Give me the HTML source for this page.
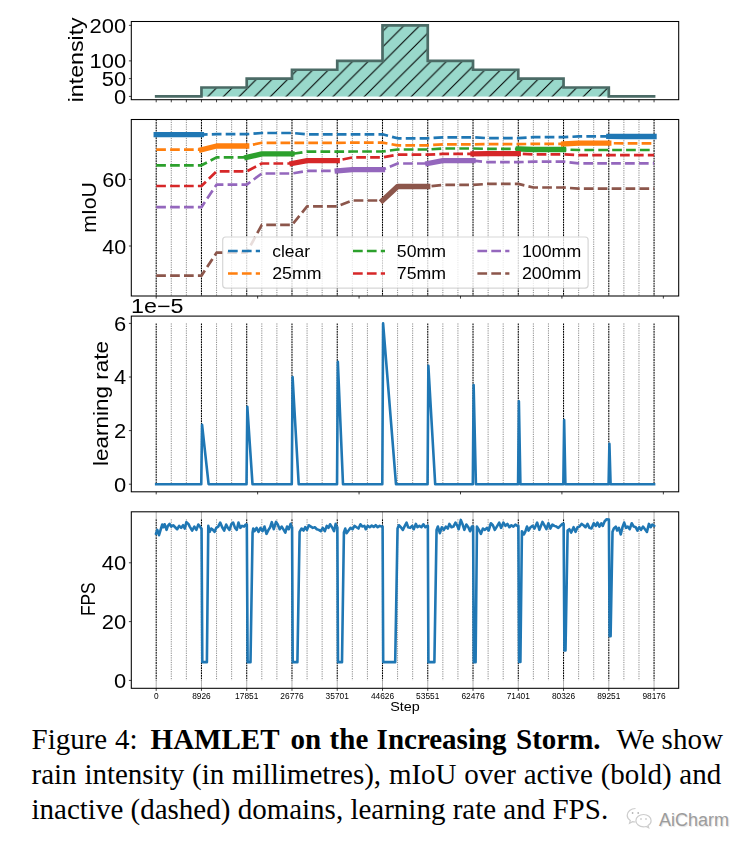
<!DOCTYPE html>
<html><head><meta charset="utf-8"><title>Figure 4</title>
<style>
html,body{margin:0;padding:0;background:#fff;}
body{width:755px;height:850px;position:relative;overflow:hidden;font-family:"Liberation Serif",serif;}
.cap{position:absolute;left:0;top:720px;width:755px;height:130px;font-family:"Liberation Serif",serif;font-size:29px;line-height:35px;color:#000;}
.cap span{position:absolute;white-space:pre;}
.wm{position:absolute;left:659px;top:809.5px;font-family:"Liberation Sans",sans-serif;font-size:18px;line-height:20px;color:#9c9c9c;text-shadow:1px 1px 1px rgba(0,0,0,0.13), -1px -1px 1px #fff;letter-spacing:0px;}
</style></head><body>
<div class="cap">
<span style="left:31.5px;top:1.8px">Figure</span>
<span style="left:115.0px;top:1.8px">4:</span>
<span style="left:150.6px;top:1.8px"><b>HAMLET</b></span>
<span style="left:290.4px;top:1.8px"><b>on</b></span>
<span style="left:329.6px;top:1.8px"><b>the</b></span>
<span style="left:376.6px;top:1.8px"><b>Increasing</b></span>
<span style="left:516.0px;top:1.8px"><b>Storm.</b></span>
<span style="left:616.6px;top:1.8px">We</span>
<span style="left:661.6px;top:1.8px">show</span>
<span style="left:31.5px;top:36.8px;word-spacing:0.55px">rain intensity (in millimetres), mIoU over active (bold) and</span>
<span style="left:31.5px;top:71.8px">inactive (dashed) domains, learning rate and FPS.</span>
</div>
<svg width="30" height="26" viewBox="0 0 30 26" style="position:absolute;left:625px;top:805px" fill="#fff" stroke="#cdcdcd" stroke-width="1.2">
<path d="M10.5 3.5c-4.6 0-8.3 3-8.3 6.8 0 2.1 1.2 4 3.1 5.3l-0.8 2.6 3-1.6c0.9 0.3 1.9 0.4 3 0.4"/>
<path d="M18.5 9.5c-4.2 0-7.6 2.8-7.6 6.2s3.4 6.2 7.6 6.2c0.9 0 1.8-0.1 2.6-0.4l2.6 1.4-0.7-2.3c1.9-1.1 3.100-2.900 3.100-4.900 0-3.400-3.400-6.200-7.600-6.200z"/>
<circle cx="7.6" cy="8" r="0.9" fill="#b5b5b5" stroke="none"/><circle cx="13.2" cy="8" r="0.9" fill="#b5b5b5" stroke="none"/>
<circle cx="16" cy="14" r="0.8" fill="#b5b5b5" stroke="none"/><circle cx="21" cy="14" r="0.8" fill="#b5b5b5" stroke="none"/>
</svg>
<div class="wm">AiCharm</div>
<svg width="755" height="720" viewBox="0 0 755 720" style="position:absolute;left:0;top:0;will-change:transform" font-family="Liberation Sans, sans-serif">
<defs>
<pattern id="hatch" patternUnits="userSpaceOnUse" width="15.65" height="15.65" x="7.05" y="0"><path d="M-2,2 L2,-2 M-2,17.65 L17.65,-2 M13.65,17.65 L17.65,13.65" stroke="#000" stroke-width="1.05" fill="none"/></pattern>
<clipPath id="c2"><rect x="131.3" y="119.5" width="547.4000000000001" height="176.5"/></clipPath>
</defs>
<polygon points="156.2,96.4 156.2,96.4 201.46,96.4 201.46,87.52 246.72,87.52 246.72,78.64 291.98,78.64 291.98,69.76 337.24,69.76 337.24,60.88 382.5,60.88 382.5,25.36 427.76,25.36 427.76,60.88 473.02,60.88 473.02,69.76 518.28,69.76 518.28,78.64 563.54,78.64 563.54,87.52 608.8,87.52 608.8,96.4 654.06,96.4 654.06,96.4" fill="#99d8cb"/>
<polygon points="156.2,96.4 156.2,96.4 201.46,96.4 201.46,87.52 246.72,87.52 246.72,78.64 291.98,78.64 291.98,69.76 337.24,69.76 337.24,60.88 382.5,60.88 382.5,25.36 427.76,25.36 427.76,60.88 473.02,60.88 473.02,69.76 518.28,69.76 518.28,78.64 563.54,78.64 563.54,87.52 608.8,87.52 608.8,96.4 654.06,96.4 654.06,96.4" fill="url(#hatch)"/>
<polyline points="156.2,96.4 201.46,96.4 201.46,87.52 246.72,87.52 246.72,78.64 291.98,78.64 291.98,69.76 337.24,69.76 337.24,60.88 382.5,60.88 382.5,25.36 427.76,25.36 427.76,60.88 473.02,60.88 473.02,69.76 518.28,69.76 518.28,78.64 563.54,78.64 563.54,87.52 608.8,87.52 608.8,96.4 654.06,96.4" fill="none" stroke="#4b6b66" stroke-width="2.7" stroke-linejoin="miter" stroke-linecap="square"/>
<line x1="156.2" x2="156.2" y1="119.5" y2="296" stroke="#000" stroke-width="1.05" stroke-dasharray="1.8 0.75"/><line x1="171.29" x2="171.29" y1="119.5" y2="296" stroke="#666" stroke-width="0.75" stroke-dasharray="1.2 1.1"/><line x1="186.37" x2="186.37" y1="119.5" y2="296" stroke="#666" stroke-width="0.75" stroke-dasharray="1.2 1.1"/><line x1="201.46" x2="201.46" y1="119.5" y2="296" stroke="#000" stroke-width="1.05" stroke-dasharray="1.8 0.75"/><line x1="216.55" x2="216.55" y1="119.5" y2="296" stroke="#666" stroke-width="0.75" stroke-dasharray="1.2 1.1"/><line x1="231.63" x2="231.63" y1="119.5" y2="296" stroke="#666" stroke-width="0.75" stroke-dasharray="1.2 1.1"/><line x1="246.72" x2="246.72" y1="119.5" y2="296" stroke="#000" stroke-width="1.05" stroke-dasharray="1.8 0.75"/><line x1="261.81" x2="261.81" y1="119.5" y2="296" stroke="#666" stroke-width="0.75" stroke-dasharray="1.2 1.1"/><line x1="276.89" x2="276.89" y1="119.5" y2="296" stroke="#666" stroke-width="0.75" stroke-dasharray="1.2 1.1"/><line x1="291.98" x2="291.98" y1="119.5" y2="296" stroke="#000" stroke-width="1.05" stroke-dasharray="1.8 0.75"/><line x1="307.07" x2="307.07" y1="119.5" y2="296" stroke="#666" stroke-width="0.75" stroke-dasharray="1.2 1.1"/><line x1="322.15" x2="322.15" y1="119.5" y2="296" stroke="#666" stroke-width="0.75" stroke-dasharray="1.2 1.1"/><line x1="337.24" x2="337.24" y1="119.5" y2="296" stroke="#000" stroke-width="1.05" stroke-dasharray="1.8 0.75"/><line x1="352.33" x2="352.33" y1="119.5" y2="296" stroke="#666" stroke-width="0.75" stroke-dasharray="1.2 1.1"/><line x1="367.41" x2="367.41" y1="119.5" y2="296" stroke="#666" stroke-width="0.75" stroke-dasharray="1.2 1.1"/><line x1="382.5" x2="382.5" y1="119.5" y2="296" stroke="#000" stroke-width="1.05" stroke-dasharray="1.8 0.75"/><line x1="397.59" x2="397.59" y1="119.5" y2="296" stroke="#666" stroke-width="0.75" stroke-dasharray="1.2 1.1"/><line x1="412.67" x2="412.67" y1="119.5" y2="296" stroke="#666" stroke-width="0.75" stroke-dasharray="1.2 1.1"/><line x1="427.76" x2="427.76" y1="119.5" y2="296" stroke="#000" stroke-width="1.05" stroke-dasharray="1.8 0.75"/><line x1="442.85" x2="442.85" y1="119.5" y2="296" stroke="#666" stroke-width="0.75" stroke-dasharray="1.2 1.1"/><line x1="457.93" x2="457.93" y1="119.5" y2="296" stroke="#666" stroke-width="0.75" stroke-dasharray="1.2 1.1"/><line x1="473.02" x2="473.02" y1="119.5" y2="296" stroke="#000" stroke-width="1.05" stroke-dasharray="1.8 0.75"/><line x1="488.11" x2="488.11" y1="119.5" y2="296" stroke="#666" stroke-width="0.75" stroke-dasharray="1.2 1.1"/><line x1="503.19" x2="503.19" y1="119.5" y2="296" stroke="#666" stroke-width="0.75" stroke-dasharray="1.2 1.1"/><line x1="518.28" x2="518.28" y1="119.5" y2="296" stroke="#000" stroke-width="1.05" stroke-dasharray="1.8 0.75"/><line x1="533.37" x2="533.37" y1="119.5" y2="296" stroke="#666" stroke-width="0.75" stroke-dasharray="1.2 1.1"/><line x1="548.45" x2="548.45" y1="119.5" y2="296" stroke="#666" stroke-width="0.75" stroke-dasharray="1.2 1.1"/><line x1="563.54" x2="563.54" y1="119.5" y2="296" stroke="#000" stroke-width="1.05" stroke-dasharray="1.8 0.75"/><line x1="578.63" x2="578.63" y1="119.5" y2="296" stroke="#666" stroke-width="0.75" stroke-dasharray="1.2 1.1"/><line x1="593.71" x2="593.71" y1="119.5" y2="296" stroke="#666" stroke-width="0.75" stroke-dasharray="1.2 1.1"/><line x1="608.8" x2="608.8" y1="119.5" y2="296" stroke="#000" stroke-width="1.05" stroke-dasharray="1.8 0.75"/><line x1="623.89" x2="623.89" y1="119.5" y2="296" stroke="#666" stroke-width="0.75" stroke-dasharray="1.2 1.1"/><line x1="638.97" x2="638.97" y1="119.5" y2="296" stroke="#666" stroke-width="0.75" stroke-dasharray="1.2 1.1"/><line x1="654.06" x2="654.06" y1="119.5" y2="296" stroke="#000" stroke-width="1.05" stroke-dasharray="1.8 0.75"/>
<g clip-path="url(#c2)" fill="none">
<polyline points="156.2,134.6 201.46,134.6 216.55,134.2 246.72,134.2 261.81,133 291.98,133 307.07,134.3 337.24,134.3 352.33,134.3 382.5,134.3 397.59,138.3 427.76,138.3 442.85,137.3 473.02,137.3 488.11,138.2 518.28,138.2 533.37,137.2 563.54,137.2 578.63,136.4 608.8,136.4 623.89,136.5 654.06,136.5" stroke="#1f77b4" stroke-width="2.7" stroke-dasharray="9.7 4.2" stroke-linejoin="round"/>
<polyline points="156.2,149.7 201.46,149.7 216.55,146 246.72,146 261.81,142.8 291.98,142.8 307.07,142.9 337.24,142.9 352.33,142.6 382.5,142.6 397.59,145.3 427.76,145.3 442.85,144.3 473.02,144.3 488.11,144.1 518.28,144.1 533.37,143.9 563.54,143.9 578.63,143.2 608.8,143.2 623.89,143.3 654.06,143.3" stroke="#ff7f0e" stroke-width="2.7" stroke-dasharray="9.7 4.2" stroke-linejoin="round"/>
<polyline points="156.2,165.3 201.46,165.3 216.55,157.4 246.72,157.4 261.81,153.9 291.98,153.9 307.07,151.6 337.24,151.6 352.33,151.5 382.5,151.5 397.59,149.5 427.76,149.5 442.85,148.5 473.02,148.5 488.11,148.9 518.28,148.9 533.37,149.5 563.54,149.5 578.63,150 608.8,150 623.89,150 654.06,150" stroke="#2ca02c" stroke-width="2.7" stroke-dasharray="9.7 4.2" stroke-linejoin="round"/>
<polyline points="156.2,186 201.46,186 216.55,171.4 246.72,171.4 261.81,163.5 291.98,163.5 307.07,160.6 337.24,160.6 352.33,157.4 382.5,157.4 397.59,154.7 427.76,154.7 442.85,153.9 473.02,153.9 488.11,153.7 518.28,153.7 533.37,154.4 563.54,154.4 578.63,155.2 608.8,155.2 623.89,155.2 654.06,155.2" stroke="#d62728" stroke-width="2.7" stroke-dasharray="9.7 4.2" stroke-linejoin="round"/>
<polyline points="156.2,207.2 201.46,207.2 216.55,184.7 246.72,184.7 261.81,173.5 291.98,173.5 307.07,170.9 337.24,170.9 352.33,169.6 382.5,169.6 397.59,163.5 427.76,163.5 442.85,160.6 473.02,160.6 488.11,162.2 518.28,162.2 533.37,161.6 563.54,161.6 578.63,163.4 608.8,163.4 623.89,163.4 654.06,163.4" stroke="#9467bd" stroke-width="2.7" stroke-dasharray="9.7 4.2" stroke-linejoin="round"/>
<polyline points="156.2,275.7 201.46,275.7 216.55,252.7 246.72,252.7 261.81,224.9 291.98,224.9 307.07,206.4 337.24,206.4 352.33,200.5 382.5,200.5 397.59,186.5 427.76,186.5 442.85,184.9 473.02,184.9 488.11,183.9 518.28,183.9 533.37,187.5 563.54,187.5 578.63,188.7 608.8,188.7 623.89,188.7 654.06,188.7" stroke="#8c564b" stroke-width="2.7" stroke-dasharray="9.7 4.2" stroke-linejoin="round"/>
<polyline points="156.2,134.6 201.46,134.6" stroke="#1f77b4" stroke-width="5.3" stroke-linecap="square" stroke-linejoin="round"/>
<polyline points="608.8,136.4 623.89,136.5 654.06,136.5" stroke="#1f77b4" stroke-width="5.3" stroke-linecap="square" stroke-linejoin="round"/>
<polyline points="201.46,149.7 216.55,146 246.72,146" stroke="#ff7f0e" stroke-width="5.3" stroke-linecap="square" stroke-linejoin="round"/>
<polyline points="563.54,143.9 578.63,143.2 608.8,143.2" stroke="#ff7f0e" stroke-width="5.3" stroke-linecap="square" stroke-linejoin="round"/>
<polyline points="246.72,157.4 261.81,153.9 291.98,153.9" stroke="#2ca02c" stroke-width="5.3" stroke-linecap="square" stroke-linejoin="round"/>
<polyline points="518.28,148.9 533.37,149.5 563.54,149.5" stroke="#2ca02c" stroke-width="5.3" stroke-linecap="square" stroke-linejoin="round"/>
<polyline points="291.98,163.5 307.07,160.6 337.24,160.6" stroke="#d62728" stroke-width="5.3" stroke-linecap="square" stroke-linejoin="round"/>
<polyline points="473.02,153.9 488.11,153.7 518.28,153.7" stroke="#d62728" stroke-width="5.3" stroke-linecap="square" stroke-linejoin="round"/>
<polyline points="337.24,170.9 352.33,169.6 382.5,169.6" stroke="#9467bd" stroke-width="5.3" stroke-linecap="square" stroke-linejoin="round"/>
<polyline points="427.76,163.5 442.85,160.6 473.02,160.6" stroke="#9467bd" stroke-width="5.3" stroke-linecap="square" stroke-linejoin="round"/>
<polyline points="382.5,200.5 397.59,186.5 427.76,186.5" stroke="#8c564b" stroke-width="5.3" stroke-linecap="square" stroke-linejoin="round"/>
</g>
<rect x="222.7" y="237.0" width="365.40000000000003" height="51.10000000000002" rx="3" ry="3" fill="#fff" fill-opacity="0.8" stroke="#ccc" stroke-opacity="0.8" stroke-width="1.2"/>
<line x1="228.0" x2="260.0" y1="251.0" y2="251.0" stroke="#1f77b4" stroke-width="2.7" stroke-dasharray="9.7 4.2"/>
<text x="272.2" y="256.7" font-size="16.4" text-anchor="start" textLength="37.8" lengthAdjust="spacingAndGlyphs" fill="#000" >clear</text>
<line x1="228.0" x2="260.0" y1="273.5" y2="273.5" stroke="#ff7f0e" stroke-width="2.7" stroke-dasharray="9.7 4.2"/>
<text x="272.2" y="279.2" font-size="16.4" text-anchor="start" textLength="49.2" lengthAdjust="spacingAndGlyphs" fill="#000" >25mm</text>
<line x1="353.0" x2="385.0" y1="251.0" y2="251.0" stroke="#2ca02c" stroke-width="2.7" stroke-dasharray="9.7 4.2"/>
<text x="396.8" y="256.7" font-size="16.4" text-anchor="start" textLength="49.2" lengthAdjust="spacingAndGlyphs" fill="#000" >50mm</text>
<line x1="353.0" x2="385.0" y1="273.5" y2="273.5" stroke="#d62728" stroke-width="2.7" stroke-dasharray="9.7 4.2"/>
<text x="396.8" y="279.2" font-size="16.4" text-anchor="start" textLength="49.2" lengthAdjust="spacingAndGlyphs" fill="#000" >75mm</text>
<line x1="477.4" x2="509.4" y1="251.0" y2="251.0" stroke="#9467bd" stroke-width="2.7" stroke-dasharray="9.7 4.2"/>
<text x="522.0" y="256.7" font-size="16.4" text-anchor="start" textLength="59.2" lengthAdjust="spacingAndGlyphs" fill="#000" >100mm</text>
<line x1="477.4" x2="509.4" y1="273.5" y2="273.5" stroke="#8c564b" stroke-width="2.7" stroke-dasharray="9.7 4.2"/>
<text x="522.0" y="279.2" font-size="16.4" text-anchor="start" textLength="59.2" lengthAdjust="spacingAndGlyphs" fill="#000" >200mm</text>
<line x1="156.2" x2="156.2" y1="323.4" y2="484.2" stroke="#000" stroke-width="1.05" stroke-dasharray="1.8 0.75"/><line x1="171.29" x2="171.29" y1="323.4" y2="484.2" stroke="#666" stroke-width="0.75" stroke-dasharray="1.2 1.1"/><line x1="186.37" x2="186.37" y1="323.4" y2="484.2" stroke="#666" stroke-width="0.75" stroke-dasharray="1.2 1.1"/><line x1="201.46" x2="201.46" y1="323.4" y2="484.2" stroke="#000" stroke-width="1.05" stroke-dasharray="1.8 0.75"/><line x1="216.55" x2="216.55" y1="323.4" y2="484.2" stroke="#666" stroke-width="0.75" stroke-dasharray="1.2 1.1"/><line x1="231.63" x2="231.63" y1="323.4" y2="484.2" stroke="#666" stroke-width="0.75" stroke-dasharray="1.2 1.1"/><line x1="246.72" x2="246.72" y1="323.4" y2="484.2" stroke="#000" stroke-width="1.05" stroke-dasharray="1.8 0.75"/><line x1="261.81" x2="261.81" y1="323.4" y2="484.2" stroke="#666" stroke-width="0.75" stroke-dasharray="1.2 1.1"/><line x1="276.89" x2="276.89" y1="323.4" y2="484.2" stroke="#666" stroke-width="0.75" stroke-dasharray="1.2 1.1"/><line x1="291.98" x2="291.98" y1="323.4" y2="484.2" stroke="#000" stroke-width="1.05" stroke-dasharray="1.8 0.75"/><line x1="307.07" x2="307.07" y1="323.4" y2="484.2" stroke="#666" stroke-width="0.75" stroke-dasharray="1.2 1.1"/><line x1="322.15" x2="322.15" y1="323.4" y2="484.2" stroke="#666" stroke-width="0.75" stroke-dasharray="1.2 1.1"/><line x1="337.24" x2="337.24" y1="323.4" y2="484.2" stroke="#000" stroke-width="1.05" stroke-dasharray="1.8 0.75"/><line x1="352.33" x2="352.33" y1="323.4" y2="484.2" stroke="#666" stroke-width="0.75" stroke-dasharray="1.2 1.1"/><line x1="367.41" x2="367.41" y1="323.4" y2="484.2" stroke="#666" stroke-width="0.75" stroke-dasharray="1.2 1.1"/><line x1="382.5" x2="382.5" y1="323.4" y2="484.2" stroke="#000" stroke-width="1.05" stroke-dasharray="1.8 0.75"/><line x1="397.59" x2="397.59" y1="323.4" y2="484.2" stroke="#666" stroke-width="0.75" stroke-dasharray="1.2 1.1"/><line x1="412.67" x2="412.67" y1="323.4" y2="484.2" stroke="#666" stroke-width="0.75" stroke-dasharray="1.2 1.1"/><line x1="427.76" x2="427.76" y1="323.4" y2="484.2" stroke="#000" stroke-width="1.05" stroke-dasharray="1.8 0.75"/><line x1="442.85" x2="442.85" y1="323.4" y2="484.2" stroke="#666" stroke-width="0.75" stroke-dasharray="1.2 1.1"/><line x1="457.93" x2="457.93" y1="323.4" y2="484.2" stroke="#666" stroke-width="0.75" stroke-dasharray="1.2 1.1"/><line x1="473.02" x2="473.02" y1="323.4" y2="484.2" stroke="#000" stroke-width="1.05" stroke-dasharray="1.8 0.75"/><line x1="488.11" x2="488.11" y1="323.4" y2="484.2" stroke="#666" stroke-width="0.75" stroke-dasharray="1.2 1.1"/><line x1="503.19" x2="503.19" y1="323.4" y2="484.2" stroke="#666" stroke-width="0.75" stroke-dasharray="1.2 1.1"/><line x1="518.28" x2="518.28" y1="323.4" y2="484.2" stroke="#000" stroke-width="1.05" stroke-dasharray="1.8 0.75"/><line x1="533.37" x2="533.37" y1="323.4" y2="484.2" stroke="#666" stroke-width="0.75" stroke-dasharray="1.2 1.1"/><line x1="548.45" x2="548.45" y1="323.4" y2="484.2" stroke="#666" stroke-width="0.75" stroke-dasharray="1.2 1.1"/><line x1="563.54" x2="563.54" y1="323.4" y2="484.2" stroke="#000" stroke-width="1.05" stroke-dasharray="1.8 0.75"/><line x1="578.63" x2="578.63" y1="323.4" y2="484.2" stroke="#666" stroke-width="0.75" stroke-dasharray="1.2 1.1"/><line x1="593.71" x2="593.71" y1="323.4" y2="484.2" stroke="#666" stroke-width="0.75" stroke-dasharray="1.2 1.1"/><line x1="608.8" x2="608.8" y1="323.4" y2="484.2" stroke="#000" stroke-width="1.05" stroke-dasharray="1.8 0.75"/><line x1="623.89" x2="623.89" y1="323.4" y2="484.2" stroke="#666" stroke-width="0.75" stroke-dasharray="1.2 1.1"/><line x1="638.97" x2="638.97" y1="323.4" y2="484.2" stroke="#666" stroke-width="0.75" stroke-dasharray="1.2 1.1"/><line x1="654.06" x2="654.06" y1="323.4" y2="484.2" stroke="#000" stroke-width="1.05" stroke-dasharray="1.8 0.75"/>
<polyline points="156.2,484.2 201.26,484.2 202.06,424.7 208.6,484.2 246.52,484.2 247.32,406.75 252.5,484.2 291.78,484.2 292.58,377 298.7,484.2 337.04,484.2 337.84,361.72 343,484.2 382.3,484.2 383.1,323.4 396,484.2 427.56,484.2 428.36,365.74 435.2,484.2 472.82,484.2 473.62,385.04 475.9,484.2 518.08,484.2 518.88,401.39 520.4,484.2 563.34,484.2 564.14,420.15 565.4,484.2 608.6,484.2 609.4,443.73 610.6,484.2 654.06,484.2" fill="none" stroke="#1f77b4" stroke-width="2.6" stroke-linejoin="round" stroke-linecap="square"/>
<line x1="156.2" x2="156.2" y1="519.3" y2="680.4" stroke="#000" stroke-width="1.05" stroke-dasharray="1.8 0.75"/><line x1="171.29" x2="171.29" y1="519.3" y2="680.4" stroke="#666" stroke-width="0.75" stroke-dasharray="1.2 1.1"/><line x1="186.37" x2="186.37" y1="519.3" y2="680.4" stroke="#666" stroke-width="0.75" stroke-dasharray="1.2 1.1"/><line x1="201.46" x2="201.46" y1="519.3" y2="680.4" stroke="#000" stroke-width="1.05" stroke-dasharray="1.8 0.75"/><line x1="216.55" x2="216.55" y1="519.3" y2="680.4" stroke="#666" stroke-width="0.75" stroke-dasharray="1.2 1.1"/><line x1="231.63" x2="231.63" y1="519.3" y2="680.4" stroke="#666" stroke-width="0.75" stroke-dasharray="1.2 1.1"/><line x1="246.72" x2="246.72" y1="519.3" y2="680.4" stroke="#000" stroke-width="1.05" stroke-dasharray="1.8 0.75"/><line x1="261.81" x2="261.81" y1="519.3" y2="680.4" stroke="#666" stroke-width="0.75" stroke-dasharray="1.2 1.1"/><line x1="276.89" x2="276.89" y1="519.3" y2="680.4" stroke="#666" stroke-width="0.75" stroke-dasharray="1.2 1.1"/><line x1="291.98" x2="291.98" y1="519.3" y2="680.4" stroke="#000" stroke-width="1.05" stroke-dasharray="1.8 0.75"/><line x1="307.07" x2="307.07" y1="519.3" y2="680.4" stroke="#666" stroke-width="0.75" stroke-dasharray="1.2 1.1"/><line x1="322.15" x2="322.15" y1="519.3" y2="680.4" stroke="#666" stroke-width="0.75" stroke-dasharray="1.2 1.1"/><line x1="337.24" x2="337.24" y1="519.3" y2="680.4" stroke="#000" stroke-width="1.05" stroke-dasharray="1.8 0.75"/><line x1="352.33" x2="352.33" y1="519.3" y2="680.4" stroke="#666" stroke-width="0.75" stroke-dasharray="1.2 1.1"/><line x1="367.41" x2="367.41" y1="519.3" y2="680.4" stroke="#666" stroke-width="0.75" stroke-dasharray="1.2 1.1"/><line x1="382.5" x2="382.5" y1="519.3" y2="680.4" stroke="#000" stroke-width="1.05" stroke-dasharray="1.8 0.75"/><line x1="397.59" x2="397.59" y1="519.3" y2="680.4" stroke="#666" stroke-width="0.75" stroke-dasharray="1.2 1.1"/><line x1="412.67" x2="412.67" y1="519.3" y2="680.4" stroke="#666" stroke-width="0.75" stroke-dasharray="1.2 1.1"/><line x1="427.76" x2="427.76" y1="519.3" y2="680.4" stroke="#000" stroke-width="1.05" stroke-dasharray="1.8 0.75"/><line x1="442.85" x2="442.85" y1="519.3" y2="680.4" stroke="#666" stroke-width="0.75" stroke-dasharray="1.2 1.1"/><line x1="457.93" x2="457.93" y1="519.3" y2="680.4" stroke="#666" stroke-width="0.75" stroke-dasharray="1.2 1.1"/><line x1="473.02" x2="473.02" y1="519.3" y2="680.4" stroke="#000" stroke-width="1.05" stroke-dasharray="1.8 0.75"/><line x1="488.11" x2="488.11" y1="519.3" y2="680.4" stroke="#666" stroke-width="0.75" stroke-dasharray="1.2 1.1"/><line x1="503.19" x2="503.19" y1="519.3" y2="680.4" stroke="#666" stroke-width="0.75" stroke-dasharray="1.2 1.1"/><line x1="518.28" x2="518.28" y1="519.3" y2="680.4" stroke="#000" stroke-width="1.05" stroke-dasharray="1.8 0.75"/><line x1="533.37" x2="533.37" y1="519.3" y2="680.4" stroke="#666" stroke-width="0.75" stroke-dasharray="1.2 1.1"/><line x1="548.45" x2="548.45" y1="519.3" y2="680.4" stroke="#666" stroke-width="0.75" stroke-dasharray="1.2 1.1"/><line x1="563.54" x2="563.54" y1="519.3" y2="680.4" stroke="#000" stroke-width="1.05" stroke-dasharray="1.8 0.75"/><line x1="578.63" x2="578.63" y1="519.3" y2="680.4" stroke="#666" stroke-width="0.75" stroke-dasharray="1.2 1.1"/><line x1="593.71" x2="593.71" y1="519.3" y2="680.4" stroke="#666" stroke-width="0.75" stroke-dasharray="1.2 1.1"/><line x1="608.8" x2="608.8" y1="519.3" y2="680.4" stroke="#000" stroke-width="1.05" stroke-dasharray="1.8 0.75"/><line x1="623.89" x2="623.89" y1="519.3" y2="680.4" stroke="#666" stroke-width="0.75" stroke-dasharray="1.2 1.1"/><line x1="638.97" x2="638.97" y1="519.3" y2="680.4" stroke="#666" stroke-width="0.75" stroke-dasharray="1.2 1.1"/><line x1="654.06" x2="654.06" y1="519.3" y2="680.4" stroke="#000" stroke-width="1.05" stroke-dasharray="1.8 0.75"/>
<line x1="156.2" x2="156.2" y1="680.4" y2="688.3" stroke="#999" stroke-width="0.8"/>
<line x1="156.2" x2="156.2" y1="511.8" y2="519.3" stroke="#999" stroke-width="0.8"/>
<line x1="201.46" x2="201.46" y1="680.4" y2="688.3" stroke="#999" stroke-width="0.8"/>
<line x1="201.46" x2="201.46" y1="511.8" y2="519.3" stroke="#999" stroke-width="0.8"/>
<line x1="246.72" x2="246.72" y1="680.4" y2="688.3" stroke="#999" stroke-width="0.8"/>
<line x1="246.72" x2="246.72" y1="511.8" y2="519.3" stroke="#999" stroke-width="0.8"/>
<line x1="291.98" x2="291.98" y1="680.4" y2="688.3" stroke="#999" stroke-width="0.8"/>
<line x1="291.98" x2="291.98" y1="511.8" y2="519.3" stroke="#999" stroke-width="0.8"/>
<line x1="337.24" x2="337.24" y1="680.4" y2="688.3" stroke="#999" stroke-width="0.8"/>
<line x1="337.24" x2="337.24" y1="511.8" y2="519.3" stroke="#999" stroke-width="0.8"/>
<line x1="382.5" x2="382.5" y1="680.4" y2="688.3" stroke="#999" stroke-width="0.8"/>
<line x1="382.5" x2="382.5" y1="511.8" y2="519.3" stroke="#999" stroke-width="0.8"/>
<line x1="427.76" x2="427.76" y1="680.4" y2="688.3" stroke="#999" stroke-width="0.8"/>
<line x1="427.76" x2="427.76" y1="511.8" y2="519.3" stroke="#999" stroke-width="0.8"/>
<line x1="473.02" x2="473.02" y1="680.4" y2="688.3" stroke="#999" stroke-width="0.8"/>
<line x1="473.02" x2="473.02" y1="511.8" y2="519.3" stroke="#999" stroke-width="0.8"/>
<line x1="518.28" x2="518.28" y1="680.4" y2="688.3" stroke="#999" stroke-width="0.8"/>
<line x1="518.28" x2="518.28" y1="511.8" y2="519.3" stroke="#999" stroke-width="0.8"/>
<line x1="563.54" x2="563.54" y1="680.4" y2="688.3" stroke="#999" stroke-width="0.8"/>
<line x1="563.54" x2="563.54" y1="511.8" y2="519.3" stroke="#999" stroke-width="0.8"/>
<line x1="608.8" x2="608.8" y1="680.4" y2="688.3" stroke="#999" stroke-width="0.8"/>
<line x1="608.8" x2="608.8" y1="511.8" y2="519.3" stroke="#999" stroke-width="0.8"/>
<line x1="654.06" x2="654.06" y1="680.4" y2="688.3" stroke="#999" stroke-width="0.8"/>
<line x1="654.06" x2="654.06" y1="511.8" y2="519.3" stroke="#999" stroke-width="0.8"/>
<polyline points="155.96,533.84 157.28,529.87 159.01,535.17 160.6,529.87 162.19,524.57 163.25,527.22 164.57,524.3 166.56,529.87 167.88,525.89 169.6,523.91 171.19,526.56 173.18,525.23 175.17,527.22 177.15,529.21 179.14,525.89 181.13,527.88 183.11,525.23 184.7,528.54 186.42,522.19 188.41,523.91 189.74,526.56 192.12,530.53 194.37,526.56 196.36,529.87 198.34,524.57 200.07,526.56 200.99,528.54 201.56,528.54 202.3,662.17 206.9,662.17 208.28,525.89 209.6,531.85 211.19,528.54 212.91,529.87 214.64,531.85 216.23,527.88 218.21,526.56 220.2,522.58 222.19,527.22 224.17,530.53 226.16,524.57 227.88,527.88 229.47,529.87 231.46,523.91 233.18,522.58 235.03,527.88 236.75,529.87 238.48,522.58 240.33,527.88 242.05,525.89 244.04,526.56 245.63,524.57 246.82,524.57 247.6,662.17 250.5,662.17 252.58,532.52 253.25,528.54 254.57,531.19 256.56,527.88 258.54,531.85 260.53,527.88 262.52,531.19 264.5,526.56 266.49,533.84 268.48,529.87 270.2,527.22 271.79,522.19 273.77,529.21 276.03,521.92 277.75,524.57 279.74,529.21 281.72,526.56 283.71,529.87 285.3,532.52 287.02,526.56 288.74,529.21 290.6,523.91 291.39,527.22 292.08,527.22 292.7,662.17 297.4,662.17 299.6,531.85 301.59,528.54 303.58,530.53 305.17,527.22 306.89,529.87 308.87,525.23 310.86,526.56 312.85,527.88 314.83,527.22 316.82,529.21 318.81,529.87 320.79,531.19 322.78,527.88 324.77,531.19 326.75,525.89 328.48,527.88 330.07,524.3 332.05,527.22 334.04,531.19 335.63,523.91 336.69,527.22 337.34,527.22 338,662.17 342,662.17 343.91,532.52 345.23,528.54 346.56,533.18 348.54,530.53 350.53,527.88 352.52,529.21 354.5,525.89 356.49,527.22 358.48,528.54 360.46,524.3 362.45,526.56 364.44,525.89 365.76,529.21 367.75,525.89 369.74,527.22 371.72,525.63 373.71,526.95 375.7,525.23 377.68,527.22 379.67,525.89 381.66,526.56 382.6,526.56 383.2,662.17 395.2,662.17 397.55,528.54 398.87,525.23 400.86,527.22 402.85,529.87 404.83,525.89 406.56,522.58 408.15,527.22 410.13,527.88 412.12,525.89 413.71,529.21 415.83,523.91 417.42,527.22 419.4,525.89 421.39,527.22 423.38,524.3 425.36,527.22 427.35,525.89 427.86,525.89 428.4,662.17 434.4,662.17 436.56,529.87 437.88,526.56 439.87,533.18 441.85,527.22 443.84,529.87 445.83,526.56 447.81,528.54 449.4,523.91 451.52,527.22 453.38,526.56 455.5,522.58 457.09,525.23 458.68,529.21 460.79,519.93 462.65,524.57 464.37,529.87 466.36,524.57 468.34,527.22 470.07,531.19 471.92,526.56 473.12,526.56 473.8,662.17 475.6,662.17 476.95,526.56 478.94,529.87 480.93,533.84 482.91,528.54 484.9,529.87 486.89,527.88 488.61,530.53 490.86,523.25 492.85,525.23 494.83,529.87 496.82,526.56 499.21,522.58 501.06,527.88 503.44,522.58 505.43,525.89 507.42,523.91 509.4,527.22 511.39,525.23 513.38,526.56 515.36,524.57 517.35,525.89 518.38,525.89 519.1,661.88 520.4,661.88 521.92,531.19 523.91,534.5 525.23,531.85 526.95,526.56 528.54,530.53 530.53,527.22 532.52,525.89 534.5,528.54 537.15,522.58 539.4,529.87 542.45,521.92 544.7,525.89 546.42,529.21 548.41,523.25 550.4,528.54 552.38,524.57 554.37,525.89 556.36,526.56 558.34,527.88 560.33,525.89 562.32,523.91 563.64,523.91 564.4,650.41 565.5,650.41 567.62,530.53 569.34,529.21 571.19,532.52 573.58,527.22 575.56,531.85 577.55,527.22 579.54,526.56 581.52,523.91 583.51,525.23 585.5,527.22 587.48,523.91 589.47,527.88 591.46,528.54 593.71,523.25 595.83,525.89 597.42,522.58 599.4,526.56 601.39,523.25 602.72,525.89 604.7,521.26 606.69,519.27 608.68,519.54 608.9,519.54 609.6,636.3 610.6,636.3 612.52,531.85 613.84,528.54 615.83,526.56 617.15,530.53 618.87,527.88 620.73,534.5 622.45,527.22 624.17,522.58 626.03,527.88 627.75,526.56 629.74,529.21 631.72,523.25 633.71,526.56 635.7,527.22 637.42,530.53 639.27,527.22 640.99,529.87 642.98,526.56 644.97,529.21 646.95,531.85 648.94,523.91 650.66,527.22 652.25,524.57 654.24,525.89" fill="none" stroke="#1f77b4" stroke-width="2.6" stroke-linejoin="round" stroke-linecap="round"/>
<rect x="131.3" y="21.5" width="547.4000000000001" height="78.2" fill="none" stroke="#000" stroke-width="1.05"/>
<rect x="131.3" y="119.5" width="547.4000000000001" height="176.5" fill="none" stroke="#000" stroke-width="1.05"/>
<rect x="131.3" y="316.1" width="547.4000000000001" height="175.7" fill="none" stroke="#000" stroke-width="1.05"/>
<rect x="131.3" y="511.8" width="547.4000000000001" height="176.49999999999994" fill="none" stroke="#000" stroke-width="1.05"/>
<line x1="128.9" x2="131.3" y1="96.4" y2="96.4" stroke="#000" stroke-width="0.75"/>
<line x1="128.9" x2="131.3" y1="78.64" y2="78.64" stroke="#000" stroke-width="0.75"/>
<line x1="128.9" x2="131.3" y1="60.88" y2="60.88" stroke="#000" stroke-width="0.75"/>
<line x1="128.9" x2="131.3" y1="25.36" y2="25.36" stroke="#000" stroke-width="0.75"/>
<line x1="156.2" x2="156.2" y1="99.7" y2="102.3" stroke="#000" stroke-width="0.75"/>
<line x1="171.29" x2="171.29" y1="99.7" y2="102.3" stroke="#000" stroke-width="0.75"/>
<line x1="186.37" x2="186.37" y1="99.7" y2="102.3" stroke="#000" stroke-width="0.75"/>
<line x1="201.46" x2="201.46" y1="99.7" y2="102.3" stroke="#000" stroke-width="0.75"/>
<line x1="216.55" x2="216.55" y1="99.7" y2="102.3" stroke="#000" stroke-width="0.75"/>
<line x1="231.63" x2="231.63" y1="99.7" y2="102.3" stroke="#000" stroke-width="0.75"/>
<line x1="246.72" x2="246.72" y1="99.7" y2="102.3" stroke="#000" stroke-width="0.75"/>
<line x1="261.81" x2="261.81" y1="99.7" y2="102.3" stroke="#000" stroke-width="0.75"/>
<line x1="276.89" x2="276.89" y1="99.7" y2="102.3" stroke="#000" stroke-width="0.75"/>
<line x1="291.98" x2="291.98" y1="99.7" y2="102.3" stroke="#000" stroke-width="0.75"/>
<line x1="307.07" x2="307.07" y1="99.7" y2="102.3" stroke="#000" stroke-width="0.75"/>
<line x1="322.15" x2="322.15" y1="99.7" y2="102.3" stroke="#000" stroke-width="0.75"/>
<line x1="337.24" x2="337.24" y1="99.7" y2="102.3" stroke="#000" stroke-width="0.75"/>
<line x1="352.33" x2="352.33" y1="99.7" y2="102.3" stroke="#000" stroke-width="0.75"/>
<line x1="367.41" x2="367.41" y1="99.7" y2="102.3" stroke="#000" stroke-width="0.75"/>
<line x1="382.5" x2="382.5" y1="99.7" y2="102.3" stroke="#000" stroke-width="0.75"/>
<line x1="397.59" x2="397.59" y1="99.7" y2="102.3" stroke="#000" stroke-width="0.75"/>
<line x1="412.67" x2="412.67" y1="99.7" y2="102.3" stroke="#000" stroke-width="0.75"/>
<line x1="427.76" x2="427.76" y1="99.7" y2="102.3" stroke="#000" stroke-width="0.75"/>
<line x1="442.85" x2="442.85" y1="99.7" y2="102.3" stroke="#000" stroke-width="0.75"/>
<line x1="457.93" x2="457.93" y1="99.7" y2="102.3" stroke="#000" stroke-width="0.75"/>
<line x1="473.02" x2="473.02" y1="99.7" y2="102.3" stroke="#000" stroke-width="0.75"/>
<line x1="488.11" x2="488.11" y1="99.7" y2="102.3" stroke="#000" stroke-width="0.75"/>
<line x1="503.19" x2="503.19" y1="99.7" y2="102.3" stroke="#000" stroke-width="0.75"/>
<line x1="518.28" x2="518.28" y1="99.7" y2="102.3" stroke="#000" stroke-width="0.75"/>
<line x1="533.37" x2="533.37" y1="99.7" y2="102.3" stroke="#000" stroke-width="0.75"/>
<line x1="548.45" x2="548.45" y1="99.7" y2="102.3" stroke="#000" stroke-width="0.75"/>
<line x1="563.54" x2="563.54" y1="99.7" y2="102.3" stroke="#000" stroke-width="0.75"/>
<line x1="578.63" x2="578.63" y1="99.7" y2="102.3" stroke="#000" stroke-width="0.75"/>
<line x1="593.71" x2="593.71" y1="99.7" y2="102.3" stroke="#000" stroke-width="0.75"/>
<line x1="608.8" x2="608.8" y1="99.7" y2="102.3" stroke="#000" stroke-width="0.75"/>
<line x1="623.89" x2="623.89" y1="99.7" y2="102.3" stroke="#000" stroke-width="0.75"/>
<line x1="638.97" x2="638.97" y1="99.7" y2="102.3" stroke="#000" stroke-width="0.75"/>
<line x1="654.06" x2="654.06" y1="99.7" y2="102.3" stroke="#000" stroke-width="0.75"/>
<line x1="128.9" x2="131.3" y1="179.4" y2="179.4" stroke="#000" stroke-width="0.75"/>
<line x1="128.9" x2="131.3" y1="246.0" y2="246.0" stroke="#000" stroke-width="0.75"/>
<line x1="156.2" x2="156.2" y1="296.0" y2="298.6" stroke="#000" stroke-width="0.75"/>
<line x1="257.63" x2="257.63" y1="296.0" y2="298.6" stroke="#000" stroke-width="0.75"/>
<line x1="359.06" x2="359.06" y1="296.0" y2="298.6" stroke="#000" stroke-width="0.75"/>
<line x1="460.49" x2="460.49" y1="296.0" y2="298.6" stroke="#000" stroke-width="0.75"/>
<line x1="561.92" x2="561.92" y1="296.0" y2="298.6" stroke="#000" stroke-width="0.75"/>
<line x1="663.35" x2="663.35" y1="296.0" y2="298.6" stroke="#000" stroke-width="0.75"/>
<line x1="156.2" x2="156.2" y1="491.8" y2="494.40000000000003" stroke="#000" stroke-width="0.75"/>
<line x1="257.63" x2="257.63" y1="491.8" y2="494.40000000000003" stroke="#000" stroke-width="0.75"/>
<line x1="359.06" x2="359.06" y1="491.8" y2="494.40000000000003" stroke="#000" stroke-width="0.75"/>
<line x1="460.49" x2="460.49" y1="491.8" y2="494.40000000000003" stroke="#000" stroke-width="0.75"/>
<line x1="561.92" x2="561.92" y1="491.8" y2="494.40000000000003" stroke="#000" stroke-width="0.75"/>
<line x1="663.35" x2="663.35" y1="491.8" y2="494.40000000000003" stroke="#000" stroke-width="0.75"/>
<line x1="128.9" x2="131.3" y1="484.2" y2="484.2" stroke="#000" stroke-width="0.75"/>
<line x1="128.9" x2="131.3" y1="430.6" y2="430.6" stroke="#000" stroke-width="0.75"/>
<line x1="128.9" x2="131.3" y1="377" y2="377" stroke="#000" stroke-width="0.75"/>
<line x1="128.9" x2="131.3" y1="323.4" y2="323.4" stroke="#000" stroke-width="0.75"/>
<line x1="128.9" x2="131.3" y1="680.4" y2="680.4" stroke="#000" stroke-width="0.75"/>
<line x1="128.9" x2="131.3" y1="621.6" y2="621.6" stroke="#000" stroke-width="0.75"/>
<line x1="128.9" x2="131.3" y1="562.8" y2="562.8" stroke="#000" stroke-width="0.75"/>
<line x1="156.2" x2="156.2" y1="688.3" y2="690.9" stroke="#000" stroke-width="0.75"/>
<line x1="201.46" x2="201.46" y1="688.3" y2="690.9" stroke="#000" stroke-width="0.75"/>
<line x1="246.72" x2="246.72" y1="688.3" y2="690.9" stroke="#000" stroke-width="0.75"/>
<line x1="291.98" x2="291.98" y1="688.3" y2="690.9" stroke="#000" stroke-width="0.75"/>
<line x1="337.24" x2="337.24" y1="688.3" y2="690.9" stroke="#000" stroke-width="0.75"/>
<line x1="382.5" x2="382.5" y1="688.3" y2="690.9" stroke="#000" stroke-width="0.75"/>
<line x1="427.76" x2="427.76" y1="688.3" y2="690.9" stroke="#000" stroke-width="0.75"/>
<line x1="473.02" x2="473.02" y1="688.3" y2="690.9" stroke="#000" stroke-width="0.75"/>
<line x1="518.28" x2="518.28" y1="688.3" y2="690.9" stroke="#000" stroke-width="0.75"/>
<line x1="563.54" x2="563.54" y1="688.3" y2="690.9" stroke="#000" stroke-width="0.75"/>
<line x1="608.8" x2="608.8" y1="688.3" y2="690.9" stroke="#000" stroke-width="0.75"/>
<line x1="654.06" x2="654.06" y1="688.3" y2="690.9" stroke="#000" stroke-width="0.75"/>
<text x="126.2" y="32.71" font-size="19.9" text-anchor="end" textLength="36.6" lengthAdjust="spacingAndGlyphs" fill="#000" >200</text>
<text x="126.2" y="68.23" font-size="19.9" text-anchor="end" textLength="36.6" lengthAdjust="spacingAndGlyphs" fill="#000" >100</text>
<text x="126.2" y="86.19" font-size="19.9" text-anchor="end" textLength="24.4" lengthAdjust="spacingAndGlyphs" fill="#000" >50</text>
<text x="126.2" y="103.75" font-size="19.9" text-anchor="end" textLength="12.2" lengthAdjust="spacingAndGlyphs" fill="#000" >0</text>
<text x="126.2" y="186.55" font-size="19.9" text-anchor="end" textLength="24.0" lengthAdjust="spacingAndGlyphs" fill="#000" >60</text>
<text x="126.2" y="253.85" font-size="19.9" text-anchor="end" textLength="24.0" lengthAdjust="spacingAndGlyphs" fill="#000" >40</text>
<text x="126.2" y="491.55" font-size="19.9" text-anchor="end" textLength="12.2" lengthAdjust="spacingAndGlyphs" fill="#000" >0</text>
<text x="126.2" y="437.95" font-size="19.9" text-anchor="end" textLength="12.2" lengthAdjust="spacingAndGlyphs" fill="#000" >2</text>
<text x="126.2" y="384.35" font-size="19.9" text-anchor="end" textLength="12.2" lengthAdjust="spacingAndGlyphs" fill="#000" >4</text>
<text x="126.2" y="330.75" font-size="19.9" text-anchor="end" textLength="12.2" lengthAdjust="spacingAndGlyphs" fill="#000" >6</text>
<text x="126.2" y="688.05" font-size="19.9" text-anchor="end" textLength="12.2" lengthAdjust="spacingAndGlyphs" fill="#000" >0</text>
<text x="126.2" y="629.25" font-size="19.9" text-anchor="end" textLength="24.4" lengthAdjust="spacingAndGlyphs" fill="#000" >20</text>
<text x="126.2" y="570.45" font-size="19.9" text-anchor="end" textLength="24.4" lengthAdjust="spacingAndGlyphs" fill="#000" >40</text>
<text x="131.0" y="313.0" font-size="19.9" text-anchor="start" textLength="52.5" lengthAdjust="spacingAndGlyphs" fill="#000" >1e−5</text>
<text x="83.2" y="59.8" font-size="19.9" text-anchor="middle" textLength="85.0" lengthAdjust="spacingAndGlyphs" transform="rotate(-90 83.2 59.8)" fill="#000" >intensity</text>
<text x="96.0" y="207.4" font-size="19.9" text-anchor="middle" textLength="50.6" lengthAdjust="spacingAndGlyphs" transform="rotate(-90 96.0 207.4)" fill="#000" >mIoU</text>
<text x="107.8" y="403.5" font-size="19.9" text-anchor="middle" textLength="125.0" lengthAdjust="spacingAndGlyphs" transform="rotate(-90 107.8 403.5)" fill="#000" >learning rate</text>
<text x="95.4" y="599.2" font-size="19.9" text-anchor="middle" textLength="33.8" lengthAdjust="spacingAndGlyphs" transform="rotate(-90 95.4 599.2)" fill="#000" >FPS</text>
<text x="156.2" y="698.5" font-size="8.3" text-anchor="middle" fill="#000" >0</text>
<text x="201.46" y="698.5" font-size="8.3" text-anchor="middle" textLength="18.6" lengthAdjust="spacingAndGlyphs" fill="#000" >8926</text>
<text x="246.72" y="698.5" font-size="8.3" text-anchor="middle" textLength="23.25" lengthAdjust="spacingAndGlyphs" fill="#000" >17851</text>
<text x="291.98" y="698.5" font-size="8.3" text-anchor="middle" textLength="23.25" lengthAdjust="spacingAndGlyphs" fill="#000" >26776</text>
<text x="337.24" y="698.5" font-size="8.3" text-anchor="middle" textLength="23.25" lengthAdjust="spacingAndGlyphs" fill="#000" >35701</text>
<text x="382.5" y="698.5" font-size="8.3" text-anchor="middle" textLength="23.25" lengthAdjust="spacingAndGlyphs" fill="#000" >44626</text>
<text x="427.76" y="698.5" font-size="8.3" text-anchor="middle" textLength="23.25" lengthAdjust="spacingAndGlyphs" fill="#000" >53551</text>
<text x="473.02" y="698.5" font-size="8.3" text-anchor="middle" textLength="23.25" lengthAdjust="spacingAndGlyphs" fill="#000" >62476</text>
<text x="518.28" y="698.5" font-size="8.3" text-anchor="middle" textLength="23.25" lengthAdjust="spacingAndGlyphs" fill="#000" >71401</text>
<text x="563.54" y="698.5" font-size="8.3" text-anchor="middle" textLength="23.25" lengthAdjust="spacingAndGlyphs" fill="#000" >80326</text>
<text x="608.8" y="698.5" font-size="8.3" text-anchor="middle" textLength="23.25" lengthAdjust="spacingAndGlyphs" fill="#000" >89251</text>
<text x="654.06" y="698.5" font-size="8.3" text-anchor="middle" textLength="23.25" lengthAdjust="spacingAndGlyphs" fill="#000" >98176</text>
<text x="405.0" y="711.2" font-size="12.6" text-anchor="middle" textLength="29.6" lengthAdjust="spacingAndGlyphs" fill="#000" >Step</text>
</svg>
</body></html>
